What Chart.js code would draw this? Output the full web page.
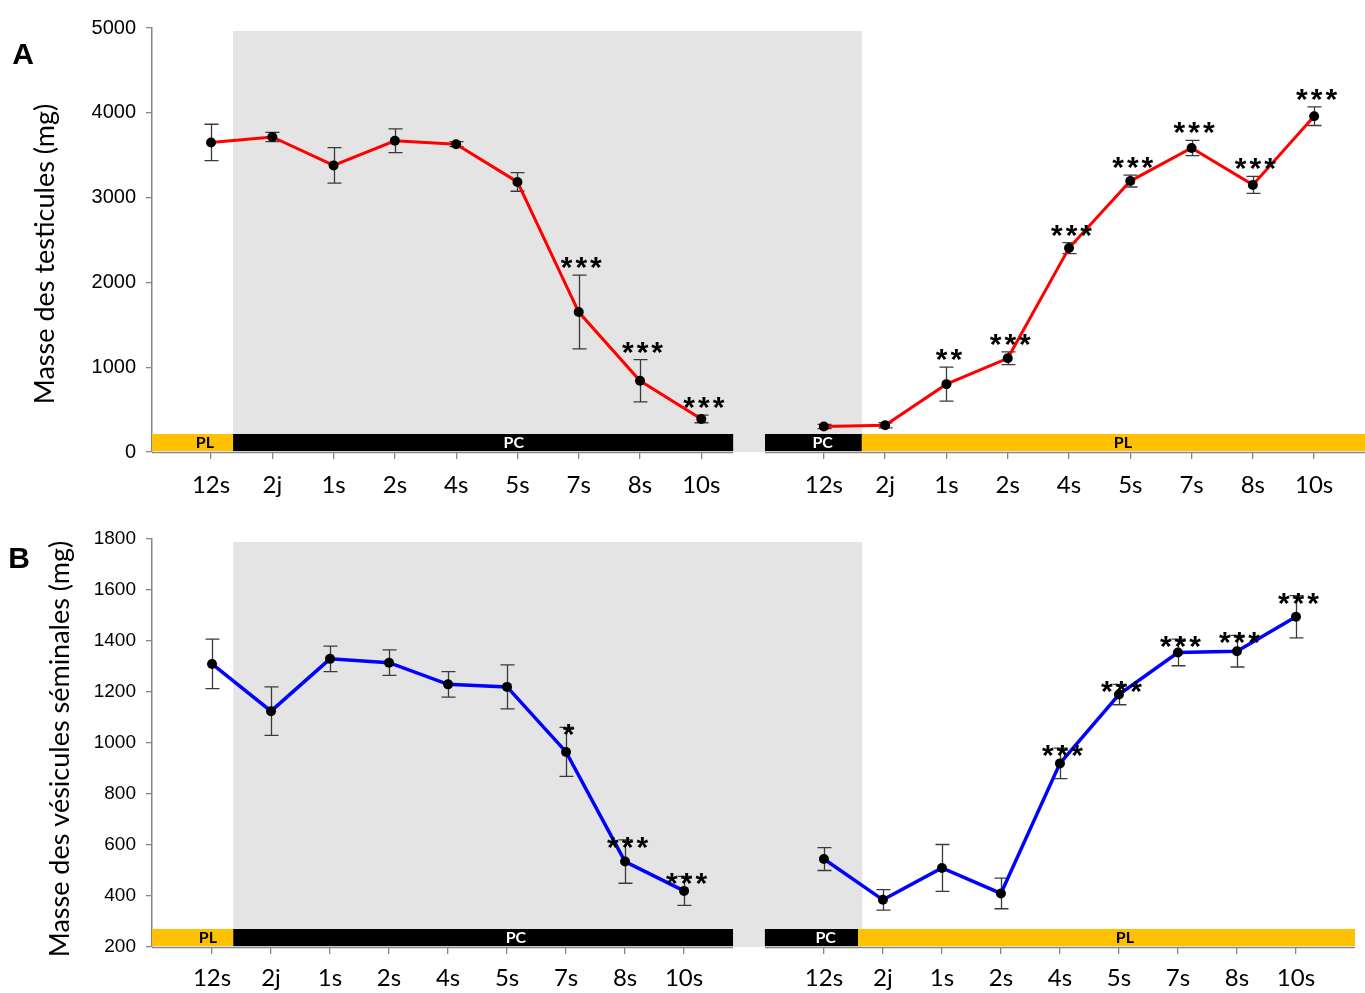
<!DOCTYPE html>
<html>
<head>
<meta charset="utf-8">
<script src="https://cdn.jsdelivr.net/npm/chart.js@4.4.0/dist/chart.umd.min.js"></script>
<style>
  body { margin: 0; background: #fff; width: 1365px; height: 993px; overflow: hidden; position: relative; }
  canvas { position: absolute; left: 0; }
  #chartA { top: 0; }
  #chartB { top: 505px; }
</style>
</head>
<body>
<canvas id="chartA" width="1365" height="505"></canvas>
<canvas id="chartB" width="1365" height="488"></canvas>
<script>
// sampling times (same for both halves of each panel)
const times = ['12s', '2j', '1s', '2s', '4s', '5s', '7s', '8s', '10s'];

// A - masse des testicules (mg)
const testisToPC = [3650, 3715, 3380, 3670, 3630, 3185, 1650, 840, 390];
const testisToPCErr = [215, 55, 210, 140, 30, 110, 435, 250, 45];
const testisToPCSig = ['', '', '', '', '', '', '***', '***', '***'];
const testisToPL = [300, 315, 800, 1105, 2405, 3195, 3585, 3150, 3960];
const testisToPLErr = [25, 30, 200, 75, 65, 70, 90, 100, 110];
const testisToPLSig = ['', '', '**', '***', '***', '***', '***', '***', '***'];

// B - masse des vesicules seminales (mg)
const vesToPC = [1310, 1125, 1330, 1315, 1230, 1220, 965, 535, 420];
const vesToPCErr = [97, 95, 50, 50, 50, 86, 96, 85, 57];
const vesToPCSig = ['', '', '', '', '', '', '*', '***', '***'];
const vesToPL = [545, 385, 510, 410, 920, 1190, 1355, 1360, 1495];
const vesToPLErr = [45, 40, 92, 60, 60, 40, 52, 62, 83];
const vesToPLSig = ['', '', '', '', '***', '***', '***', '***', '***'];

const GREY = '#868686';

const decor = {
  id: 'decor',
  beforeDatasetsDraw(chart, args, o) {
    const { ctx, chartArea: ca, scales: { x, y } } = chart;
    const px = v => x.getPixelForValue(v);
    ctx.save();
    // shaded short photoperiod
    ctx.fillStyle = '#e4e4e4';
    ctx.fillRect(px(o.shade[0]), ca.top + 3, px(o.shade[1]) - px(o.shade[0]), ca.bottom - ca.top - 3);
    // PL / PC bars
    o.bands.forEach(b => {
      const x0 = px(b[1]), x1 = px(b[2]);
      ctx.fillStyle = b[0] === 'PL' ? '#ffc000' : '#000';
      ctx.fillRect(x0, ca.bottom - 18, x1 - x0, 17);
      ctx.fillStyle = b[0] === 'PL' ? '#000' : '#fff';
      ctx.font = 'bold 16px Lato';
      ctx.textAlign = 'center';
      ctx.textBaseline = 'middle';
      ctx.fillText(b[0], px(b[3]), ca.bottom - 9);
    });
    // broken x axis
    ctx.strokeStyle = GREY;
    ctx.lineWidth = 1.5;
    o.axis.forEach(s => {
      ctx.beginPath();
      ctx.moveTo(px(s[0]), ca.bottom + 0.5);
      ctx.lineTo(px(s[1]), ca.bottom + 0.5);
      ctx.stroke();
    });
    // error bars
    ctx.strokeStyle = '#3a3a3a';
    ctx.lineWidth = 1.3;
    chart.data.datasets.forEach(ds => {
      ds.data.forEach(p => {
        const cx = Math.round(px(p.x)) + 0.5;
        const t = y.getPixelForValue(p.y + p.err), b = y.getPixelForValue(p.y - p.err);
        ctx.beginPath();
        ctx.moveTo(cx, t); ctx.lineTo(cx, b);
        ctx.moveTo(cx - 7, t); ctx.lineTo(cx + 7, t);
        ctx.moveTo(cx - 7, b); ctx.lineTo(cx + 7, b);
        ctx.stroke();
      });
    });
    ctx.restore();
  },
  afterDatasetsDraw(chart, args, o) {
    const { ctx, scales: { x, y } } = chart;
    ctx.save();
    ctx.fillStyle = '#000';
    ctx.font = 'bold 30px "Liberation Sans"';
    ctx.letterSpacing = '3px';
    ctx.textAlign = 'center';
    ctx.textBaseline = 'alphabetic';
    chart.data.datasets.forEach(ds => {
      ds.data.forEach(p => {
        if (!p.sig) return;
        const mid = y.getPixelForValue(p.y + p.err) - o.starGap;
        ctx.fillText(p.sig, x.getPixelForValue(p.x) + 4, mid + 17);
      });
    });
    ctx.restore();
  },
  afterDraw(chart, args, o) {
    const { ctx } = chart;
    ctx.save();
    ctx.fillStyle = '#000';
    ctx.font = 'bold 30px "Liberation Sans"';
    ctx.textAlign = 'center';
    ctx.textBaseline = 'middle';
    ctx.fillText(o.letter[0], o.letter[1], o.letter[2]);
    ctx.translate(o.title[1], o.title[2]);
    ctx.rotate(-Math.PI / 2);
    ctx.font = '27px Lato';
    ctx.fillText(o.title[0], 0, 0);
    ctx.restore();
  }
};

function panel(id, p) {
  const ticks = times.map((t, i) => i).concat(times.map((t, i) => p.rightStart + i));
  const tickLabels = times.concat(times);
  const pts = (vals, errs, sig, start) =>
    vals.map((v, i) => ({ x: start + i, y: v, err: errs[i], sig: sig[i] }));
  const line = (data) => ({
    data,
    borderColor: p.color,
    borderWidth: p.lineWidth,
    pointRadius: 5,
    pointBackgroundColor: '#000',
    pointBorderWidth: 0,
    tension: 0
  });
  return new Chart(document.getElementById(id), {
    type: 'line',
    data: {
      datasets: [
        line(pts(p.toPC, p.toPCErr, p.toPCSig, 0)),
        line(pts(p.toPL, p.toPLErr, p.toPLSig, p.rightStart))
      ]
    },
    options: {
      responsive: false,
      animation: false,
      layout: { autoPadding: false, padding: { top: p.top, left: 0, right: 0, bottom: 0 } },
      scales: {
        x: {
          type: 'linear',
          min: p.xMin,
          max: p.xMax,
          afterBuildTicks: s => { s.ticks = ticks.map(v => ({ value: v })); },
          afterFit: s => { s.height = p.xHeight; s.paddingLeft = 0; s.paddingRight = 0; },
          ticks: {
            autoSkip: false,
            maxRotation: 0,
            padding: p.xPad,
            color: '#000',
            font: { family: 'Lato', size: 24 },
            callback: (v, i) => tickLabels[i]
          },
          grid: { drawOnChartArea: false, tickLength: 7, color: GREY, lineWidth: 1.3 },
          border: { display: false }
        },
        y: {
          min: p.yMin,
          max: p.yMax,
          afterFit: s => { s.width = 152; s.paddingTop = 0; s.paddingBottom = 0; },
          ticks: {
            stepSize: p.yStep,
            padding: 10,
            color: '#000',
            font: { family: 'Liberation Sans', size: p.yFont },
            callback: v => String(v)
          },
          grid: { drawOnChartArea: false, tickLength: 6, color: GREY, lineWidth: 1.3 },
          border: { color: GREY, width: 1.5 }
        }
      },
      plugins: {
        legend: { display: false },
        tooltip: { enabled: false },
        decor: {
          shade: p.shade,
          bands: p.bands,
          axis: p.axis,
          starGap: p.starGap,
          letter: p.letter,
          title: p.title
        }
      }
    },
    plugins: [decor]
  });
}

panel('chartA', {
  toPC: testisToPC, toPCErr: testisToPCErr, toPCSig: testisToPCSig,
  toPL: testisToPL, toPLErr: testisToPLErr, toPLSig: testisToPLSig,
  color: '#ff0000', lineWidth: 3,
  rightStart: 10, xMin: -0.963, xMax: 18.83,
  top: 28, xHeight: 53, xPad: 12,
  yMin: 0, yMax: 5000, yStep: 1000, yFont: 20,
  shade: [0.36, 10.62],
  bands: [['PL', -0.963, 0.36, -0.1], ['PC', 0.36, 8.52, 4.94], ['PC', 9.04, 10.62, 9.98], ['PL', 10.62, 18.83, 14.88]],
  axis: [[-0.963, 8.52], [9.04, 18.83]],
  starGap: 15,
  letter: ['A', 23, 56],
  title: ['Masse des testicules (mg)', 45, 254]
});

panel('chartB', {
  toPC: vesToPC, toPCErr: vesToPCErr, toPCSig: vesToPCSig,
  toPL: vesToPL, toPLErr: vesToPLErr, toPLSig: vesToPLSig,
  color: '#0000ff', lineWidth: 3.5,
  rightStart: 10.37, xMin: -1.017, xMax: 19.54,
  top: 34, xHeight: 46, xPad: 10,
  yMin: 200, yMax: 1800, yStep: 200, yFont: 19,
  shade: [0.36, 11.02],
  bands: [['PL', -1.017, 0.36, -0.07], ['PC', 0.36, 8.83, 5.15], ['PC', 9.37, 10.95, 10.4], ['PL', 10.95, 19.37, 15.47]],
  axis: [[-1.017, 8.83], [9.37, 19.37]],
  starGap: 0,
  letter: ['B', 19, 55],
  title: ['Masse des vésicules séminales (mg)', 60, 244]
});
</script>
</body>
</html>
